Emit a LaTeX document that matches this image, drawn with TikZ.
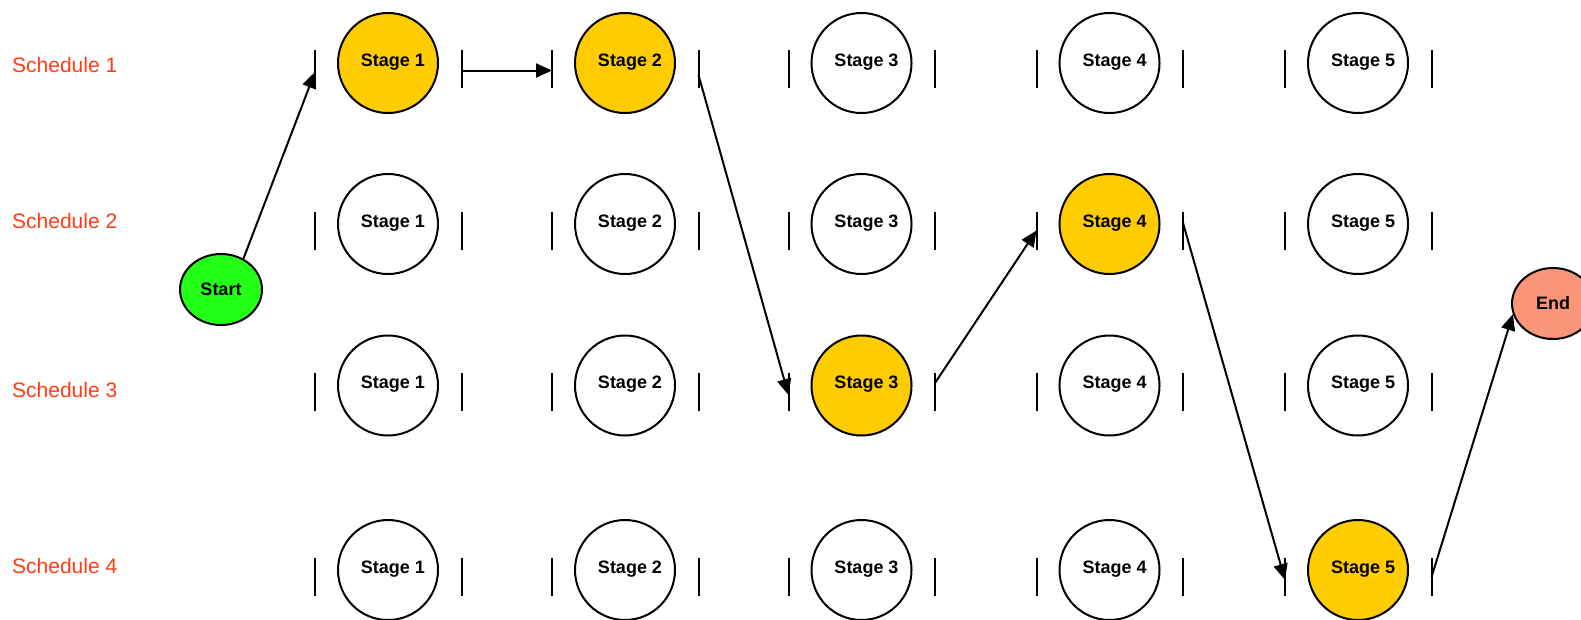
\documentclass[tikz,border=0pt]{standalone}
\usepackage{fontspec}
\setmainfont{Liberation Sans}
\usetikzlibrary{arrows.meta,calc,shapes.geometric}
\definecolor{stageyellow}{RGB}{255,204,0}
\definecolor{startgreen}{RGB}{36,255,24}
\definecolor{endsalmon}{RGB}{249,150,120}
\definecolor{schedred}{RGB}{255,60,20}
\begin{document}
\begin{tikzpicture}[x=1pt,y=-1pt,
  stagecircle/.style={circle,draw,line width=2pt,minimum size=100pt,inner sep=0pt,fill=white},
  active/.style={fill=stageyellow},
  stagetext/.style={font=\fontsize{18pt}{20pt}\selectfont\bfseries},
  barline/.style={line width=2pt},
  flow/.style={line width=2pt,-{Triangle[length=16pt,width=14pt]}},
  schedlabel/.style={anchor=west,inner sep=0pt,text=schedred,font=\fontsize{21pt}{24pt}\selectfont},
  termnode/.style={ellipse,draw,line width=2pt,minimum width=82pt,minimum height=71pt,inner sep=0pt,font=\fontsize{18pt}{20pt}\selectfont\bfseries},
  cell-1-1/.style={active},
  cell-1-2/.style={active},
  cell-3-3/.style={active},
  cell-2-4/.style={active},
  cell-4-5/.style={active}
]
\useasboundingbox (0,0) rectangle (1581,619);

% schedule labels
\node[schedlabel] (s1) at (12,64.5) {Schedule 1};
\node[schedlabel] (s2) at (12,221) {Schedule 2};
\node[schedlabel] (s3) at (12,390) {Schedule 3};
\node[schedlabel] (s4) at (12,566) {Schedule 4};

% stage grid
\foreach \r/\y/\dy in {1/63/6,2/224/6.5,3/385.5/6.5,4/570/7}{
  \foreach \c/\x in {1/388,2/625,3/861.5,4/1109.5,5/1358}{
    \node[stagecircle,cell-\r-\c/.try,
      label={[stagetext,inner sep=0pt,xshift=5pt,yshift=1pt]center:Stage \c}]
      (n\r\c) at (\x,\y) {};
    \coordinate (L\r\c) at (\x-73,\y+\dy);
    \coordinate (R\r\c) at (\x+73.5,\y+\dy);
    \draw[barline] ($(L\r\c)+(0,-19)$) -- ($(L\r\c)+(0,19)$);
    \draw[barline] ($(R\r\c)+(0,-19)$) -- ($(R\r\c)+(0,19)$);
  }
}

% start and end
\node[termnode,fill=startgreen] (start) at (221,289.5) {Start};
\node[termnode,fill=endsalmon] (end) at (1553,303.5) {End};

% path
\draw[flow] (start.54) -- ($(L11)+(0,3)$);
\draw[flow] ($(R11)+(0,1.5)$) -- ($(L12)+(0,1.5)$);
\draw[flow] ($(R12)+(0,6)$) -- ($(L33)+(0,3)$);
\draw[flow] ($(R33)+(0,-9)$) -- (L24);
\draw[flow] ($(R24)+(0,-7.5)$) -- ($(L45)+(0,3)$);
\draw[flow] (R45) -- (end.195);
\end{tikzpicture}
\end{document}
